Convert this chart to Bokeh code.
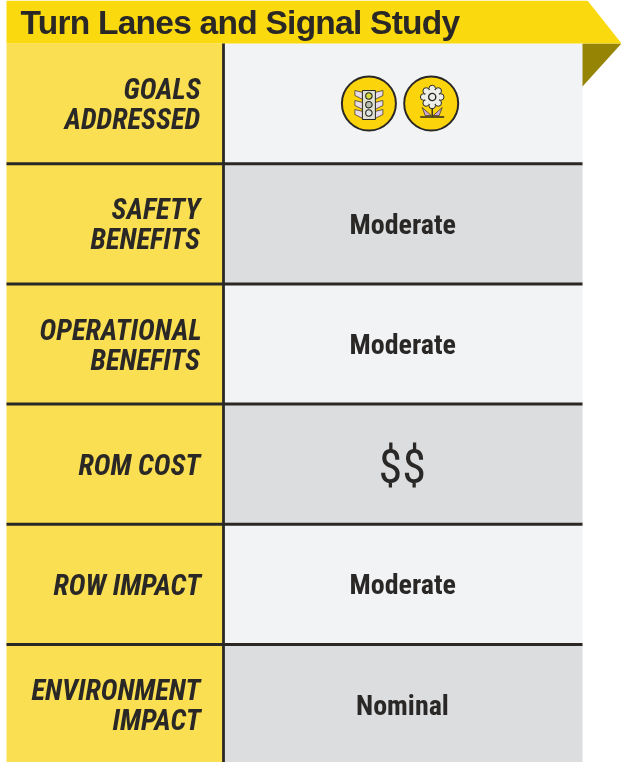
from bokeh.plotting import figure
from bokeh.layouts import column
from bokeh.embed import file_html
from bokeh.resources import INLINE
from bokeh.core.properties import value

title = "Turn Lanes and Signal Study"
row_labels = [["GOALS", "ADDRESSED"], ["SAFETY", "BENEFITS"], ["OPERATIONAL", "BENEFITS"],
              ["ROM COST"], ["ROW IMPACT"], ["ENVIRONMENT", "IMPACT"]]
row_values = ["", "Moderate", "Moderate", "$$", "Moderate", "Nominal"]

DARK = "#2a2826"
W, H = 621, 762
L, MID, R = 6, 223, 582
HEAD = 43
ROW = 120.2

# Left edges of the condensed texts: the renderer measures width before the
# condensed stretch applies, so its right/centre alignment cannot be used.
LABEL_X = {"GOALS": 123, "ADDRESSED": 64, "SAFETY": 111, "BENEFITS": 90, "OPERATIONAL": 39,
           "ROM COST": 78, "ROW IMPACT": 53, "ENVIRONMENT": 31, "IMPACT": 112}
VALUE_X = {"Moderate": 349, "Nominal": 355.5, "$$": 378}

p = figure(width=W, height=H, x_range=(0, W), y_range=(H, 0), output_backend="svg",
           toolbar_location=None, min_border=0, outline_line_color=None,
           background_fill_color=None, border_fill_color=None)
p.axis.visible = False
p.grid.visible = False
p.styles = {"position": "fixed", "left": "0", "top": "0", "font-stretch": "75%"}

n = len(row_labels)
tops = [HEAD + i * ROW for i in range(n)]
bots = [t + ROW for t in tops]
bots[-1] = H
mids = [t + ROW / 2 - 0.5 for t in tops]

p.quad(left=[L] * n, right=[MID] * n, top=tops, bottom=bots, fill_color="#fbdf52", line_color=None)
p.quad(left=[MID] * n, right=[R] * n, top=tops, bottom=bots,
       fill_color=["#f2f3f5" if i % 2 == 0 else "#dcdddf" for i in range(n)], line_color=None)

# header ribbon and fold
p.patch([582, 621, 582], [43, 43, 86], fill_color="#968405", line_color=None)
p.patch([L, 587, 621, L], [0, 0, 43, 43], fill_color="#fbd90f", line_color=None)

# rules
p.segment([MID], [HEAD], [MID], [H], line_color=DARK, line_width=2.8)
p.segment([L] * (n - 1), bots[:-1], [R] * (n - 1), bots[:-1], line_color=DARK, line_width=3)

FN = value("Roboto")
for lab, m in zip(row_labels, mids):
    ys = [m + 2] if len(lab) == 1 else [m - 13.5, m + 16.5]
    p.text([LABEL_X[s] for s in lab], ys, text=lab, text_font=FN, text_font_style="bold italic",
           text_font_size="28.5px", text_color=DARK, text_align="left", text_baseline="middle")

for v, m in zip(row_values, mids):
    if not v:
        continue
    big = v == "$$"
    p.text([VALUE_X[v]], [m + (3 if big else 1)], text=[v], text_font=FN,
           text_font_style="normal" if big else "bold",
           text_font_size="48px" if big else "28px", text_color=DARK, text_align="left",
           text_baseline="middle")

# icon discs
ix1, ix2, iy = 368.4, 430.7, 103
p.circle([ix1, ix2], [iy, iy], radius=27, fill_color="#fcd40c", line_color=DARK, line_width=2)

# traffic light
WING = "#e9dcea"
for wy in (iy - 11, iy - 1, iy + 8):
    for sgn in (-1, 1):
        p.patch([ix1 + sgn * 14, ix1 + sgn * 6, ix1 + sgn * 6, ix1 + sgn * 14],
                [wy - 2, wy, wy + 7, wy + 3], fill_color=WING, line_color=DARK, line_width=0.7)
p.quad(left=[ix1 - 6.5], right=[ix1 + 6.5], top=[iy - 13], bottom=[iy + 16],
       fill_color="#dfe2d2", line_color=DARK, line_width=1)
p.circle([ix1] * 3, [iy - 7.5, iy + 1.2, iy + 9.5], radius=3.2,
         fill_color=["#d6dc3c", "#b8c0b0", "#dfe6e0"], line_color=DARK, line_width=1.1)

# flower
fx, fy = ix2 + 1, iy - 6.5
p.circle([fx + dx for dx in (0, 6, 8.5, 6, 0, -6, -8.5, -6)],
         [fy + dy for dy in (-8.5, -6, 0, 6, 8.5, 6, 0, -6)], radius=3.3,
         fill_color="#eeeee8", line_color=DARK, line_width=1)
p.circle([fx], [fy], radius=7.5, fill_color="#eeeee8", line_color=None)
p.circle([fx], [fy], radius=3.6, fill_color="#eeeee8", line_color=DARK, line_width=1.4)
p.segment([fx], [fy + 11], [fx], [iy + 13], line_color=DARK, line_width=1.4)
p.patch([fx - 1, fx - 10, fx - 7], [iy + 12, iy + 4, iy + 12], fill_color="#cfa8d8", line_color=DARK, line_width=0.7)
p.patch([fx + 1, fx + 10, fx + 7], [iy + 12, iy + 4, iy + 12], fill_color="#cfa8d8", line_color=DARK, line_width=0.7)
p.segment([fx - 12], [iy + 13.5], [fx + 12], [iy + 13.5], line_color=DARK, line_width=1.6)

# header title in its own transparent overlay, to allow tighter letter spacing
t = figure(width=W, height=HEAD, x_range=(0, W), y_range=(HEAD, 0), output_backend="svg",
           toolbar_location=None, min_border=0, outline_line_color=None,
           background_fill_color=None, border_fill_color=None)
t.axis.visible = False
t.grid.visible = False
t.styles = {"position": "fixed", "left": "0", "top": "0", "letter-spacing": "-0.75px"}
t.text([20], [21.5], text=[title], text_font=value("Liberation Sans"), text_font_style="bold",
       text_font_size="33.5px", text_color=DARK, text_align="left", text_baseline="middle")

open("out.html", "w").write(file_html(column(p, t), INLINE))
